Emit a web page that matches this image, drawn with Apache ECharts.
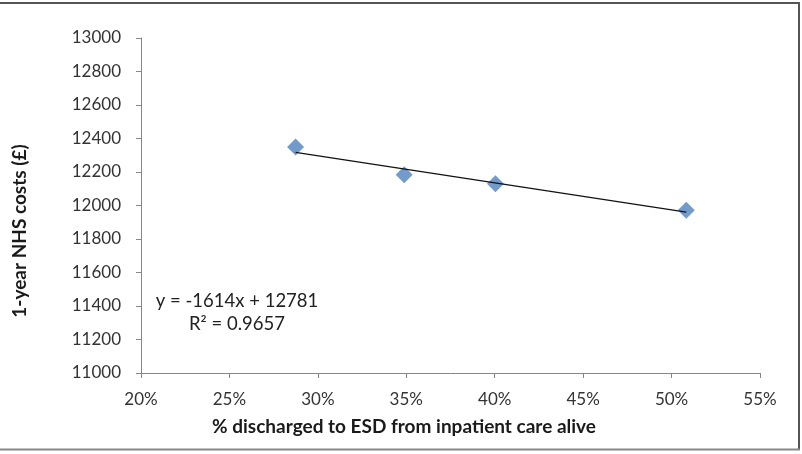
<!DOCTYPE html>
<html>
<head>
<meta charset="utf-8">
<script src="https://cdn.jsdelivr.net/npm/echarts@6/dist/echarts.min.js"></script>
<style>
html,body{margin:0;padding:0;background:#fff;}
#c{width:802px;height:454px;}
</style>
</head>
<body>
<div id="c"></div>
<script>
// Data
const pctDischarged = [28.74, 34.88, 40.04, 50.83];   // % discharged to ESD
const nhsCosts = [12350, 12184, 12130, 11972];        // 1-year NHS costs (£)
const trendSlope = -1614;       // per unit fraction
const trendIntercept = 12781;
const xTicks = [20, 25, 30, 35, 40, 45, 50, 55];
const yTicks = [11000, 11200, 11400, 11600, 11800, 12000, 12200, 12400, 12600, 12800, 13000];
const xTitle = '% discharged to ESD from inpatient care alive';
const yTitle = '1-year NHS costs (£)';

const points = pctDischarged.map((x, i) => [x, nhsCosts[i]]);
const xMin = Math.min(...pctDischarged), xMax = Math.max(...pctDischarged);
const trend = [xMin, xMax].map(x => [x, trendSlope * x / 100 + trendIntercept]);

const chart = echarts.init(document.getElementById('c'), null, {renderer: 'canvas'});
const font = 'Lato, "Open Sans", sans-serif';
chart.setOption({
  animation: false,
  backgroundColor: '#fff',
  grid: {left: 141, right: 42, top: 38, bottom: 81},
  xAxis: {
    type: 'value', min: xTicks[0], max: xTicks[xTicks.length - 1], interval: 5,
    splitLine: {show: false},
    axisLine: {lineStyle: {color: '#868686', width: 1}},
    axisTick: {show: true, length: 5, lineStyle: {color: '#868686'}},
    axisLabel: {formatter: '{value}%', color: '#333', fontFamily: font, fontSize: 17, margin: 18}
  },
  yAxis: {
    type: 'value', min: yTicks[0], max: yTicks[yTicks.length - 1], interval: 200,
    splitLine: {show: false},
    axisLine: {show: true, lineStyle: {color: '#868686', width: 1}},
    axisTick: {show: true, length: 5, lineStyle: {color: '#868686'}},
    axisLabel: {formatter: v => String(v), color: '#333', fontFamily: font, fontSize: 17, margin: 20}
  },
  series: [
    {
      type: 'line', data: trend, showSymbol: false, symbol: 'none',
      lineStyle: {color: '#111', width: 1.2}, z: 3
    },
    {
      type: 'scatter', data: points, symbol: 'diamond', symbolSize: 17,
      itemStyle: {color: '#4f81bd'}, z: 2
    }
  ],
  graphic: [
    {type: 'text', x: 404, y: 427, style: {text: xTitle, font: 'bold 19px ' + font, fill: '#1a1a1a', align: 'center', verticalAlign: 'middle'}},
    {type: 'text', x: 20, y: 231, rotation: Math.PI / 2, style: {text: yTitle, font: 'bold 19px ' + font, fill: '#1a1a1a', align: 'center', verticalAlign: 'middle'}},
    {type: 'text', x: 237, y: 301, style: {text: 'y = -1614x + 12781', font: '18.5px ' + font, fill: '#222', align: 'center', verticalAlign: 'middle'}},
    {type: 'text', x: 237, y: 324, style: {text: 'R² = 0.9657', font: '18.5px ' + font, fill: '#222', align: 'center', verticalAlign: 'middle'}},
    {type: 'line', shape: {x1: 0, y1: 3, x2: 799, y2: 3}, style: {stroke: '#555', lineWidth: 2}},
    {type: 'line', shape: {x1: 799, y1: 2, x2: 799, y2: 450}, style: {stroke: '#555', lineWidth: 2}},
    {type: 'line', shape: {x1: 0, y1: 449.5, x2: 800, y2: 449.5}, style: {stroke: '#888', lineWidth: 2}}
  ]
});
</script>
</body>
</html>
